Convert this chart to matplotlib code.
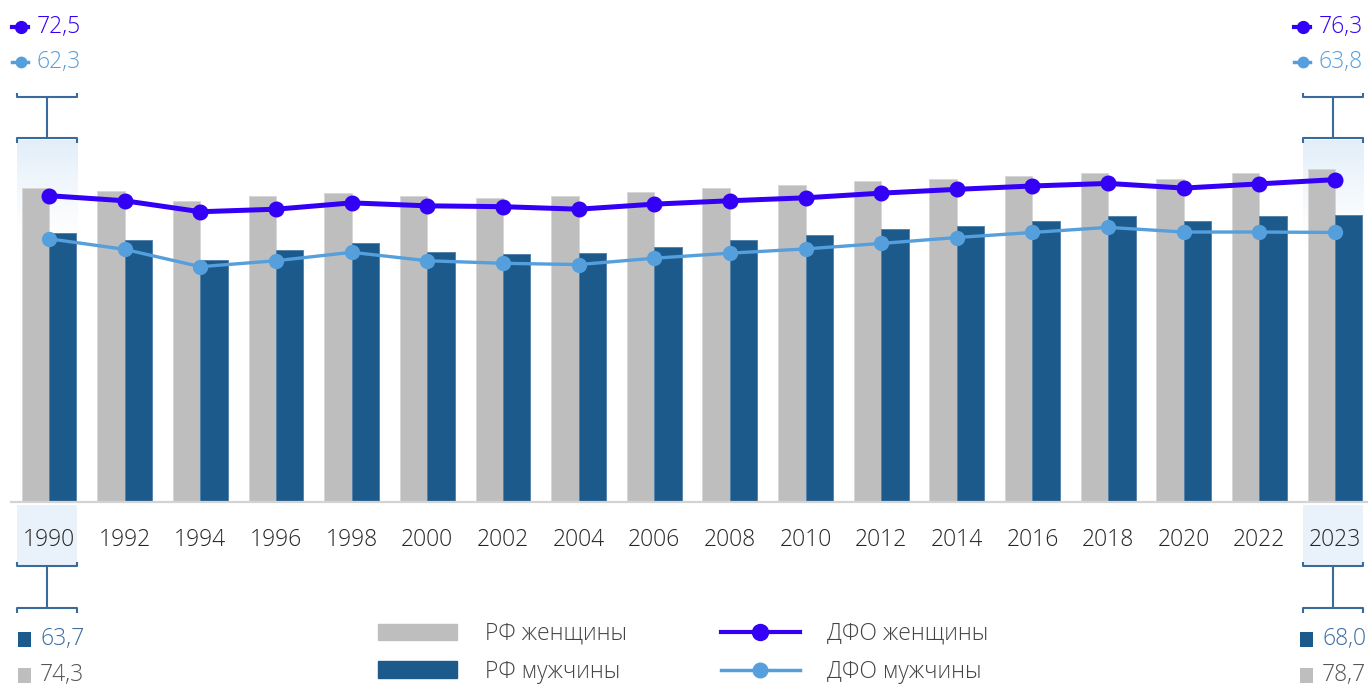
import numpy as np
import matplotlib
matplotlib.use("Agg")
import matplotlib.pyplot as plt
from matplotlib.patches import Patch, Rectangle
from matplotlib.lines import Line2D

plt.rcParams['font.family'] = ['Open Sans', 'DejaVu Sans']
plt.rcParams['font.weight'] = 'light'

years = ["1990", "1992", "1994", "1996", "1998", "2000", "2002", "2004", "2006",
         "2008", "2010", "2012", "2014", "2016", "2018", "2020", "2022", "2023"]
rf_women = [74.3, 73.7, 71.2, 72.4, 73.1, 72.4, 72.0, 72.4, 73.3,
            74.4, 75.0, 75.9, 76.5, 77.2, 77.9, 76.4, 77.8, 78.7]
rf_men = [63.7, 61.9, 57.3, 59.6, 61.2, 59.1, 58.7, 58.9, 60.4,
          61.9, 63.1, 64.5, 65.3, 66.4, 67.8, 66.4, 67.6, 68.0]
dfo_women = [72.5, 71.3, 68.7, 69.3, 70.8, 70.1, 69.9, 69.3, 70.5,
             71.3, 72.0, 73.1, 74.0, 74.8, 75.4, 74.3, 75.3, 76.3]
dfo_men = [62.3, 59.8, 55.7, 57.1, 59.1, 57.1, 56.5, 56.2, 57.7,
           58.9, 59.9, 61.2, 62.6, 63.8, 65.0, 63.9, 63.9, 63.8]
legend_labels = ["РФ женщины", "РФ мужчины", "ДФО женщины", "ДФО мужчины"]

C_GRAY = '#bebebf'
C_BLUE = '#1d5a8c'
C_WOMEN = '#3300f5'
C_MEN = '#559fdc'
C_BRACKET = '#3b6b9b'
C_SHADE = (0.89, 0.935, 0.98)

W, H = 1368, 686
fig = plt.figure(figsize=(W / 100, H / 100), dpi=100)
PX_PER_UNIT = 4.225
ax_top_px, base_px, left_px = 80, 502, 11
ax = fig.add_axes([left_px / W, (H - base_px) / H, (W - left_px) / W, (base_px - ax_top_px) / H])
ax.patch.set_alpha(0)
ymax = (base_px - ax_top_px) / PX_PER_UNIT

x = np.arange(len(years))
bw = 0.362
ax.bar(x - bw / 2, rf_women, bw, color=C_GRAY, edgecolor='#d6d6d7', linewidth=0.6, zorder=2)
ax.bar(x + bw / 2, rf_men, bw, color=C_BLUE, edgecolor='#4f7ea8', linewidth=0.6, zorder=2)
ax.plot(x, dfo_men, color=C_MEN, lw=2.4, marker='o', ms=10, zorder=3)
ax.plot(x, dfo_women, color=C_WOMEN, lw=3.6, marker='o', ms=10.5, zorder=4)

# highlight columns
hi = [0, len(years) - 1]
grad = np.zeros((100, 1, 4))
grad[..., 0], grad[..., 1], grad[..., 2] = C_SHADE
grad[:, 0, 3] = np.linspace(1, 0, 100) ** 1.3
def py(p):  # pixel row -> data y
    return (base_px - p) / PX_PER_UNIT
for i in hi:
    xc, half = i - 0.025, 0.40
    ax.imshow(grad, extent=[xc - half, xc + half, py(245), py(140)], aspect='auto',
              zorder=1, interpolation='bilinear')
    ax.add_patch(Rectangle((xc - half, py(566)), 2 * half, py(505) - py(566),
                           color='#e9f1fa', clip_on=False, zorder=0, lw=0))
    kw = dict(color=C_BRACKET, lw=1.5, clip_on=False, zorder=5, solid_capstyle='butt')
    # top bracket
    ax.plot([xc - half, xc - half, xc + half, xc + half], [py(92.5), py(97), py(97), py(92.5)], **kw)
    ax.plot([xc, xc], [py(97), py(137.5)], **kw)
    ax.plot([xc - half, xc - half, xc + half, xc + half], [py(142.5), py(137.5), py(137.5), py(142.5)], **kw)
    # bottom bracket
    ax.plot([xc - half, xc - half, xc + half, xc + half], [py(561.5), py(566), py(566), py(561.5)], **kw)
    ax.plot([xc, xc], [py(566), py(608)], **kw)
    ax.plot([xc - half, xc - half, xc + half, xc + half], [py(613), py(608), py(608), py(613)], **kw)

ax.set_xlim(-0.502, 17.435)
ax.set_ylim(0, ymax)
for s in ['top', 'right', 'left']:
    ax.spines[s].set_visible(False)
ax.spines['bottom'].set_color('#d3d3d3')
ax.spines['bottom'].set_linewidth(1.6)
ax.set_yticks([])
ax.set_xticks(x, labels=years)
ax.tick_params(axis='x', length=0, pad=19, labelsize=16.5, labelcolor='#262626')

# overlay for value annotations (pixel coords)
ov = fig.add_axes([0, 0, 1, 1])
ov.set_xlim(0, W)
ov.set_ylim(H, 0)
ov.axis('off')
ov.patch.set_alpha(0)

def fmt(v):
    return f"{v:.1f}".replace('.', ',')

def top_annot(x0, idx):
    for yy, ser, col, ms in [(27, dfo_women, C_WOMEN, 8.5), (62, dfo_men, C_MEN, 7.5)]:
        ov.plot([x0, x0 + 16], [yy, yy], color=col, lw=3 if col == C_WOMEN else 2.5)
        ov.plot([x0 + 8.5], [yy], marker='o', ms=ms, color=col)
        ov.text(x0 + 25, yy, fmt(ser[idx]), color=col, fontsize=16.5, va='center', ha='left')

def bot_annot(x0, idx):
    for yy, ser, col, tcol in [(639.5, rf_men, C_BLUE, '#3d6c9e'), (675, rf_women, C_GRAY, '#555555')]:
        ov.add_patch(Rectangle((x0, yy - 7.5), 13, 15, color=col, lw=0))
        ov.text(x0 + 22, yy, fmt(ser[idx]), color=tcol, fontsize=16.5, va='center', ha='left')

top_annot(12, 0)
top_annot(1294, len(years) - 1)
bot_annot(18, 0)
bot_annot(1300, len(years) - 1)

handles = [Patch(color=C_GRAY), Patch(color=C_BLUE),
           Line2D([], [], color=C_WOMEN, lw=3, marker='o', ms=11.5),
           Line2D([], [], color=C_MEN, lw=2.5, marker='o', ms=10.5)]
fig.legend(handles, legend_labels, ncol=2, loc='upper left',
           bbox_to_anchor=(378 / W, 1 - 622 / H), frameon=False, fontsize=16.5,
           handlelength=3.45, handleheight=0.75, handletextpad=1.2, columnspacing=4.1,
           labelspacing=0.6, borderpad=0, borderaxespad=0, labelcolor='#444444')

fig.savefig('out.png', dpi=100)
